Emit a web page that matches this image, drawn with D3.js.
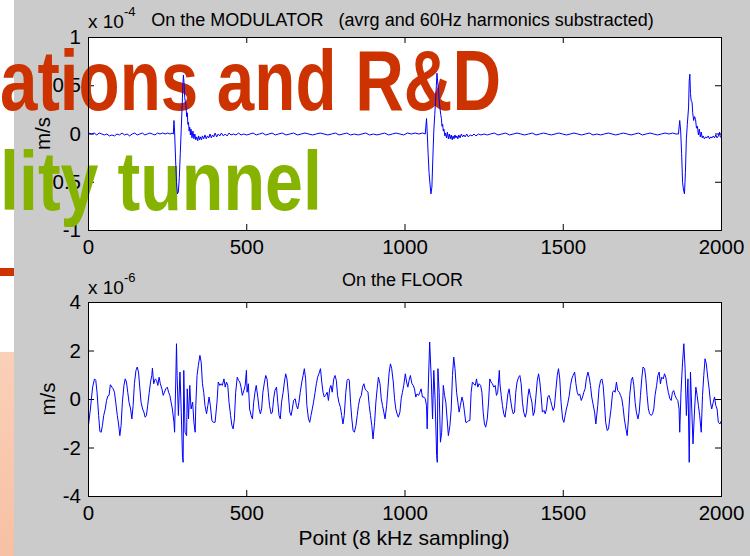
<!DOCTYPE html>
<html>
<head>
<meta charset="utf-8">
<script src="https://cdn.jsdelivr.net/npm/d3@7"></script>
<style>
  body { margin: 0; background: #fff; }
  svg { display: block; }
  text { font-family: "Liberation Sans", Arial, Helvetica, sans-serif; }
</style>
</head>
<body>
<svg id="fig" width="750" height="556"></svg>
<script>
// ---- data ----
const xTicks = [0, 500, 1000, 1500, 2000];
const modTicks = [-1, -0.5, 0, 0.5, 1];
const floorTicks = [-4, -2, 0, 2, 4];
const modTitle = "On the MODULATOR   (avrg and 60Hz harmonics substracted)";
const floorTitle = "On the FLOOR";
const xLabel = "Point (8 kHz sampling)";
const yLabel = "m/s";
const modExponent = "-4";
const floorExponent = "-6";
const slideLine1 = "ations and R&D";
const slideLine2 = "lity tunnel";

// [sample, value x 1e-4 m/s]
const modPoints = [
  [0,0.01],[10,0.00],[18,0.01],[26,-0.01],[34,0.01],[42,0.00],[50,-0.01],[58,0.00],[66,-0.02],[74,-0.01],
  [82,-0.02],[90,0.00],[98,-0.01],[106,0.01],[114,-0.01],[122,0.00],[130,-0.02],[138,0.00],[146,0.01],[154,-0.01],
  [162,0.00],[170,0.01],[178,-0.01],[186,0.00],[194,0.01],[202,0.00],[210,-0.01],[218,0.01],[226,0.00],[234,0.01],
  [242,0.00],[250,0.01],[258,0.00],[264,0.01],[268,0.00],[270,0.14],[272,0.03],[275,-0.25],[278,-0.50],[281,-0.62],
  [284,-0.60],[287,-0.45],[290,-0.20],[293,0.05],[296,0.30],[298,0.50],[300,0.61],[302,0.52],[304,0.38],[306,0.33],
  [308,0.30],[310,0.18],[312,0.22],[314,0.10],[316,0.12],[318,0.03],[320,0.07],[322,-0.01],[324,0.05],[327,-0.04],
  [330,0.03],[333,-0.05],[336,0.00],[339,-0.06],[342,-0.03],[345,-0.07],[348,-0.02],[351,-0.06],[354,-0.03],[357,-0.06],
  [360,-0.02],[364,-0.05],[368,-0.01],[372,-0.05],[376,-0.02],[380,-0.04],[384,0.00],[388,-0.04],[392,-0.01],[396,-0.03],
  [400,0.01],[405,-0.03],[410,0.00],[415,-0.02],[420,0.01],[426,-0.02],[432,0.00],[438,-0.02],[444,0.01],[450,-0.01],
  [458,0.00],[466,-0.01],[474,0.01],[482,-0.01],[490,0.00],[500,-0.01],[510,0.00],[520,0.01],[530,-0.01],[540,0.00],
  [550,0.01],[560,-0.01],[570,0.00],[580,0.01],[590,-0.01],[600,0.00],[612,0.01],[624,-0.01],[636,0.00],[648,0.01],
  [660,-0.01],[672,0.00],[684,0.01],[696,0.00],[708,-0.01],[720,0.00],[732,0.01],[744,0.00],[756,-0.01],[768,0.00],
  [780,0.01],[792,-0.01],[804,0.00],[816,0.01],[828,-0.01],[840,0.00],[852,-0.01],[864,0.00],[876,0.01],[888,-0.01],
  [900,0.00],[912,-0.01],[924,0.00],[936,0.01],[948,-0.01],[960,0.00],[972,0.01],[984,0.00],[996,-0.01],[1008,0.01],
  [1020,0.00],[1032,0.01],[1044,0.00],[1056,0.01],[1064,0.00],[1068,0.16],[1070,0.03],[1073,-0.20],[1076,-0.40],[1079,-0.52],
  [1082,-0.62],[1085,-0.55],[1088,-0.25],[1091,0.03],[1094,0.20],[1096,0.31],[1099,0.50],[1101,0.63],[1103,0.55],[1106,0.45],
  [1108,0.35],[1110,0.28],[1113,0.20],[1115,0.16],[1117,0.08],[1119,0.10],[1121,0.03],[1123,0.05],[1126,-0.02],[1128,0.01],
  [1131,-0.04],[1134,0.02],[1137,-0.05],[1140,0.00],[1143,-0.05],[1146,-0.01],[1149,-0.06],[1152,-0.02],[1155,-0.05],[1158,-0.01],
  [1161,-0.04],[1164,-0.02],[1167,-0.05],[1170,-0.01],[1174,-0.04],[1178,0.00],[1182,-0.03],[1186,-0.01],[1190,-0.03],[1195,0.00],
  [1200,-0.03],[1206,-0.01],[1212,-0.02],[1218,0.00],[1224,-0.02],[1232,0.00],[1240,-0.01],[1250,0.00],[1260,-0.01],[1270,0.00],
  [1282,0.01],[1294,-0.01],[1306,0.00],[1318,0.01],[1330,-0.01],[1342,0.00],[1354,0.01],[1366,0.00],[1378,-0.01],[1390,0.00],
  [1402,0.01],[1414,-0.01],[1426,0.00],[1438,0.01],[1450,0.00],[1462,-0.01],[1474,0.00],[1486,0.01],[1498,0.00],[1510,-0.01],
  [1522,0.00],[1534,0.01],[1546,0.00],[1558,-0.01],[1570,0.00],[1582,0.01],[1594,-0.01],[1606,0.00],[1618,-0.01],[1630,0.00],
  [1642,0.01],[1654,0.00],[1666,-0.01],[1678,0.00],[1690,0.01],[1702,0.00],[1714,-0.01],[1726,0.00],[1738,0.01],[1750,-0.01],
  [1762,0.00],[1774,0.01],[1786,0.00],[1798,-0.01],[1810,0.00],[1822,0.01],[1834,0.00],[1846,0.01],[1856,0.00],[1864,0.00],
  [1868,0.14],[1871,0.03],[1874,-0.20],[1877,-0.50],[1880,-0.58],[1883,-0.62],[1886,-0.40],[1889,-0.05],[1892,0.10],[1896,0.28],
  [1898,0.55],[1900,0.62],[1902,0.42],[1904,0.35],[1907,0.33],[1909,0.22],[1912,0.14],[1915,0.18],[1918,0.15],[1921,0.06],
  [1924,0.08],[1927,-0.01],[1930,0.05],[1933,-0.03],[1936,0.02],[1939,-0.04],[1942,-0.02],[1946,-0.05],[1950,-0.03],[1954,-0.04],
  [1958,-0.02],[1962,-0.05],[1966,-0.03],[1970,-0.04],[1974,-0.02],[1978,-0.04],[1982,-0.01],[1986,-0.04],[1990,-0.02],[1994,0.02],
  [1996,-0.03],[2000,-0.04]
];

// [sample, value x 1e-6 m/s]
const floorPoints = [
  [0,-1.05],[6,-0.39],[13,0.51],[19,0.85],[23,0.79],[27,0.30],[32,-0.66],[36,-1.32],[40,-1.35],[44,-1.07],
  [48,-0.66],[53,-0.39],[57,-0.04],[61,0.14],[65,0.17],[69,0.61],[74,0.51],[78,0.44],[82,0.30],[86,-0.11],
  [91,-0.66],[95,-1.01],[99,-1.49],[103,-1.07],[107,-0.11],[112,0.58],[116,0.85],[120,0.72],[124,0.30],[128,-0.11],
  [133,-0.39],[137,-0.80],[141,-0.25],[145,0.65],[150,1.20],[154,1.34],[158,1.13],[162,0.51],[166,-0.11],[171,-0.39],
  [175,-0.52],[179,-0.73],[183,-0.66],[187,-0.25],[192,0.30],[196,0.72],[200,0.99],[202,1.29],[206,0.65],[211,0.85],
  [215,0.79],[219,0.58],[223,0.92],[227,0.65],[232,0.44],[236,0.17],[240,0.30],[244,0.44],[249,0.51],[253,0.30],
  [257,0.17],[261,-0.11],[265,-0.39],[270,-0.94],[272,-1.35],[276,0.92],[278,2.30],[280,0.99],[284,-0.66],[289,1.13],
  [293,-0.52],[297,-2.38],[299,-2.59],[301,1.20],[305,-1.35],[310,-1.49],[312,0.44],[316,-0.80],[320,0.58],[324,-0.39],
  [329,-0.11],[333,-0.94],[337,-1.35],[339,-0.25],[343,0.99],[347,1.40],[352,1.82],[356,1.54],[360,0.65],[364,0.30],
  [368,-0.25],[373,-0.59],[377,-0.25],[381,0.10],[385,-0.25],[390,-0.87],[394,-0.94],[400,-0.94],[406,-0.11],[410,0.72],
  [415,0.58],[419,0.65],[423,0.58],[428,0.85],[432,0.51],[436,0.72],[440,0.58],[444,-0.11],[449,-0.66],[453,-1.07],
  [457,-1.21],[461,-0.80],[465,0.30],[470,0.92],[474,0.79],[478,0.72],[482,0.51],[486,0.17],[491,0.37],[495,0.58],
  [499,1.20],[501,0.30],[505,0.65],[509,-0.39],[514,-0.66],[518,-0.80],[522,-0.11],[526,0.30],[530,0.58],[535,0.10],
  [539,-0.39],[543,-0.59],[547,-0.39],[551,0.30],[556,0.72],[560,0.99],[564,0.85],[568,0.30],[572,-0.25],[577,-0.59],
  [581,-0.52],[585,0.03],[589,0.37],[594,0.51],[598,-0.11],[602,-0.66],[606,-0.80],[610,-0.11],[615,0.30],[619,0.72],
  [623,1.06],[627,0.85],[631,0.30],[636,-0.52],[640,-0.66],[644,-0.39],[648,-0.04],[653,0.03],[657,-0.25],[661,-0.39],
  [665,-0.11],[669,0.30],[674,0.72],[678,0.99],[682,1.27],[686,0.85],[690,-0.25],[695,-0.80],[699,-0.94],[703,-0.66],
  [707,-0.39],[711,-0.11],[716,0.30],[720,0.65],[724,0.92],[728,1.06],[733,1.27],[737,0.72],[741,0.30],[745,0.10],
  [749,0.17],[754,0.30],[758,-0.04],[762,0.44],[766,0.58],[770,0.30],[775,0.85],[779,0.99],[783,0.79],[787,0.17],
  [791,-0.11],[796,-0.32],[800,-0.66],[804,-1.01],[808,-0.66],[813,0.30],[817,0.79],[821,0.85],[824,0.79],[828,-0.11],
  [832,-0.80],[836,-1.28],[840,-1.35],[845,-1.07],[849,-0.66],[853,-0.25],[857,0.03],[862,0.17],[866,0.51],[870,0.65],
  [874,0.44],[878,0.37],[883,0.30],[887,-0.25],[891,-0.66],[895,-1.07],[899,-1.63],[904,-0.94],[908,-0.11],[912,0.44],
  [916,0.92],[921,0.65],[925,0.03],[929,-0.25],[933,-0.52],[937,-0.80],[942,-0.25],[946,0.44],[950,1.13],[954,1.47],
  [958,1.27],[963,0.72],[967,0.03],[971,-0.39],[975,-0.59],[979,-0.73],[984,-0.52],[988,0.03],[992,0.30],[996,0.58],
  [1001,1.06],[1005,0.72],[1009,0.51],[1013,0.79],[1017,0.99],[1022,0.65],[1026,0.58],[1030,0.44],[1034,0.10],[1038,0.23],
  [1043,0.17],[1047,0.30],[1051,0.44],[1055,0.10],[1060,0.10],[1064,0.03],[1068,-0.25],[1070,-1.21],[1074,0.72],[1078,2.37],
  [1083,0.85],[1087,-0.80],[1091,1.20],[1095,0.03],[1100,-2.31],[1102,-2.59],[1104,1.27],[1108,0.30],[1112,-1.76],[1116,-1.35],
  [1121,0.58],[1125,0.17],[1129,-0.11],[1133,-0.80],[1137,-1.49],[1142,-1.07],[1146,-0.39],[1150,0.99],[1154,1.75],[1158,1.27],
  [1163,0.30],[1167,-0.11],[1171,-0.52],[1175,-0.25],[1180,0.10],[1184,-0.11],[1188,-0.52],[1192,-0.94],[1196,-0.94],[1201,-0.87],
  [1205,-0.87],[1209,0.30],[1213,0.72],[1217,0.65],[1222,0.58],[1226,0.85],[1230,0.51],[1234,0.65],[1239,0.58],[1243,0.30],
  [1247,-0.52],[1251,-1.01],[1255,-1.14],[1260,-0.80],[1264,-0.11],[1268,0.85],[1272,0.72],[1276,0.65],[1281,0.51],[1285,0.58],
  [1289,0.17],[1293,0.30],[1298,1.20],[1300,0.65],[1304,0.17],[1308,-0.25],[1312,-0.59],[1316,-0.73],[1321,-0.25],[1325,0.23],
  [1329,0.44],[1333,0.03],[1338,-0.39],[1342,-0.59],[1346,-0.52],[1350,0.30],[1354,0.72],[1359,0.92],[1363,0.99],[1367,0.65],
  [1371,-0.11],[1375,-0.52],[1380,-0.73],[1384,-0.52],[1388,0.10],[1392,0.44],[1396,0.17],[1401,-0.11],[1405,-0.66],[1409,-0.52],
  [1413,0.03],[1418,0.79],[1422,1.06],[1426,0.72],[1430,0.17],[1434,-0.52],[1439,-0.45],[1443,-0.59],[1447,-0.39],[1451,0.10],
  [1455,0.17],[1460,-0.04],[1464,-0.25],[1468,-0.45],[1472,-0.32],[1477,0.44],[1481,0.99],[1485,1.27],[1489,0.85],[1493,-0.11],
  [1498,-0.80],[1502,-0.94],[1506,-0.66],[1510,-0.39],[1514,-0.18],[1519,0.17],[1523,0.58],[1527,0.85],[1531,0.99],[1536,1.13],
  [1540,0.65],[1544,0.30],[1548,0.17],[1552,0.23],[1557,-0.04],[1561,0.10],[1565,0.30],[1569,0.44],[1573,0.85],[1578,1.13],
  [1582,0.92],[1586,0.58],[1590,0.10],[1594,-0.18],[1599,-0.52],[1603,-1.01],[1609,-0.25],[1613,0.44],[1618,0.79],[1622,0.85],
  [1626,0.58],[1630,-0.11],[1634,-0.94],[1639,-1.28],[1643,-1.21],[1647,-0.80],[1651,-0.39],[1656,0.30],[1660,0.37],[1664,0.30],
  [1668,0.72],[1672,0.37],[1677,0.30],[1681,0.17],[1685,0.03],[1689,-0.32],[1693,-0.80],[1698,-1.21],[1702,-1.49],[1706,-0.80],
  [1710,0.17],[1715,0.79],[1719,0.92],[1723,0.58],[1727,-0.11],[1731,-0.52],[1736,-0.80],[1740,-0.52],[1744,0.17],[1748,0.85],
  [1752,1.34],[1757,1.27],[1761,0.85],[1765,0.17],[1769,-0.39],[1773,-0.59],[1778,-0.66],[1782,-0.59],[1786,-0.39],[1790,0.17],
  [1795,0.58],[1799,0.99],[1803,1.13],[1807,0.65],[1811,0.92],[1816,0.85],[1820,1.06],[1824,0.92],[1828,0.58],[1832,0.30],
  [1837,0.03],[1841,-0.04],[1845,0.30],[1849,0.37],[1853,0.17],[1858,0.03],[1862,-0.04],[1866,-0.39],[1868,-1.35],[1872,0.30],
  [1877,1.54],[1881,2.30],[1885,1.27],[1889,-0.66],[1894,0.85],[1898,-2.59],[1902,1.13],[1906,-0.39],[1910,-1.83],[1915,-0.39],
  [1919,0.51],[1923,0.17],[1927,-0.25],[1931,-0.66],[1936,-1.35],[1940,0.17],[1944,0.99],[1948,1.68],[1952,1.47],[1957,0.85],
  [1961,0.44],[1965,-0.11],[1969,-0.39],[1974,-0.11],[1978,0.10],[1982,-0.25],[1986,-0.39],[1990,-0.94],[1995,-1.01],[2000,-0.87]
];

const svg = d3.select("svg#fig");

// ---- slide behind the pasted figure ----
const defs = svg.append("defs");
const grad = defs.append("linearGradient").attr("id", "peach")
  .attr("x1", 0).attr("y1", 0).attr("x2", 0).attr("y2", 1);
grad.append("stop").attr("offset", "0%").attr("stop-color", "#fad0b8");
grad.append("stop").attr("offset", "100%").attr("stop-color", "#f6c1a4");

svg.append("rect").attr("width", 750).attr("height", 556).attr("fill", "#ffffff");
svg.append("rect").attr("x", 0).attr("y", 352).attr("width", 14).attr("height", 204).attr("fill", "url(#peach)");
svg.append("rect").attr("x", 0).attr("y", 268).attr("width", 14).attr("height", 8).attr("fill", "#cc3300");
// figure background
svg.append("rect").attr("x", 14).attr("y", 0).attr("width", 736).attr("height", 556).attr("fill", "#cbcbcb");

const fontStack = '"Liberation Sans", Arial, Helvetica, sans-serif';

function drawPanel(cfg) {
  const b = cfg.bounds;
  const scaleX = d3.scaleLinear().domain([0, 2000]).range([b.minX, b.maxX]);
  const scaleY = d3.scaleLinear().domain(cfg.yDomain).range([b.maxY, b.minY]);

  const g = svg.append("g");
  g.append("rect")
    .attr("x", b.minX + 0.5).attr("y", b.minY + 0.5)
    .attr("width", b.maxX - b.minX).attr("height", b.maxY - b.minY)
    .attr("fill", "#ffffff");

  const styleAxis = sel => {
    sel.select(".domain").remove();
    sel.attr("font-family", fontStack).attr("font-size", 20.5);
    sel.selectAll("text").attr("fill", "#000");
    sel.selectAll("line").attr("stroke", "#000");
  };

  g.append("g").attr("transform", `translate(0 ${b.maxY})`)
    .call(d3.axisBottom(scaleX).tickValues(xTicks).tickSize(-6).tickPadding(9).tickFormat(d => String(d)))
    .call(styleAxis);
  g.append("g").attr("transform", `translate(0 ${b.minY})`)
    .call(d3.axisTop(scaleX).tickValues(xTicks).tickSize(-6).tickFormat(""))
    .call(styleAxis);
  g.append("g").attr("transform", `translate(${b.minX} 0)`)
    .call(d3.axisLeft(scaleY).tickValues(cfg.yTicks).tickSize(-6).tickPadding(7).tickFormat(d => String(d)))
    .call(styleAxis);
  g.append("g").attr("transform", `translate(${b.maxX} 0)`)
    .call(d3.axisRight(scaleY).tickValues(cfg.yTicks).tickSize(-6).tickFormat(""))
    .call(styleAxis);

  // exponent label
  const ex = g.append("text").attr("x", b.minX).attr("y", cfg.expY)
    .attr("font-size", 19).attr("fill", "#000").text("x 10");
  ex.append("tspan").attr("dy", -12).attr("font-size", 13).text(cfg.exponent);

  // title
  g.append("text").attr("x", (b.minX + b.maxX) / 2 - 2).attr("y", cfg.titleY)
    .attr("text-anchor", "middle").attr("font-size", 18).attr("fill", "#000")
    .style("white-space", "pre").text(cfg.title);

  // y label
  g.append("text")
    .attr("transform", `translate(${cfg.yLabelX} ${(b.minY + b.maxY) / 2}) rotate(-90)`)
    .attr("text-anchor", "middle").attr("font-size", 20.5).attr("fill", "#000")
    .text(yLabel);

  return { g, scaleX, scaleY };
}

const modPanel = drawPanel({
  bounds: { minX: 88, maxX: 721, minY: 37, maxY: 230 },
  yDomain: [-1, 1], yTicks: modTicks, exponent: modExponent,
  expY: 28, title: modTitle, titleY: 26, yLabelX: 50
});
const floorPanel = drawPanel({
  bounds: { minX: 88, maxX: 721, minY: 302, maxY: 496 },
  yDomain: [-4, 4], yTicks: floorTicks, exponent: floorExponent,
  expY: 294, title: floorTitle, titleY: 286, yLabelX: 55
});

svg.append("text").attr("x", 404).attr("y", 545)
  .attr("text-anchor", "middle").attr("font-size", 21).attr("fill", "#000")
  .text(xLabel);

// ---- slide title text laid over the figure ----
svg.append("text").attr("x", 0).attr("y", 110)
  .attr("font-family", '"Liberation Sans Narrow", "Liberation Sans", Arial, sans-serif')
  .attr("font-weight", "bold").attr("font-size", 85).attr("fill", "#cc3300")
  .attr("textLength", 501).attr("lengthAdjust", "spacingAndGlyphs")
  .text(slideLine1);
svg.append("text").attr("x", 0).attr("y", 210)
  .attr("font-family", '"Liberation Sans Narrow", "Liberation Sans", Arial, sans-serif')
  .attr("font-weight", "bold").attr("font-size", 84).attr("fill", "#86b300")
  .attr("textLength", 322).attr("lengthAdjust", "spacingAndGlyphs")
  .text(slideLine2);

// ---- signals ----
function drawSignal(panel, points) {
  const line = d3.line()
    .x(d => panel.scaleX(d[0]) + 0.5)
    .y(d => panel.scaleY(d[1]) + 0.5);
  svg.append("path").datum(points)
    .attr("d", line)
    .attr("fill", "none")
    .attr("stroke", "#0000ff")
    .attr("stroke-width", 1);
}
drawSignal(modPanel, modPoints);
drawSignal(floorPanel, floorPoints);

// axes boxes on top
[[37, 230], [302, 496]].forEach(([y0, y1]) => {
  svg.append("rect").attr("x", 88.5).attr("y", y0 + 0.5)
    .attr("width", 633).attr("height", y1 - y0)
    .attr("fill", "none").attr("stroke", "#000").attr("stroke-width", 1);
});
</script>
</body>
</html>
